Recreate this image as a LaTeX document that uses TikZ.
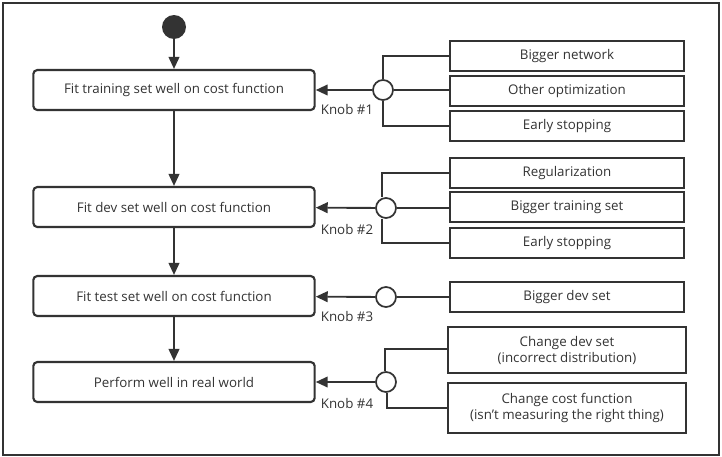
\documentclass[tikz,border=0pt]{standalone}
\usepackage{fontspec}
\setmainfont{Open Sans}
\usetikzlibrary{arrows.meta}
\definecolor{ink}{HTML}{333333}
\tikzset{
  stage/.style = {draw = ink, line width = 1.6pt, rounded corners = 3pt, minimum width = 211pt, minimum height = 30pt, inner sep = 0pt},
  fix/.style = {draw = ink, line width = 1.7pt, minimum width = 175pt, minimum height = 22.5pt, inner sep = 0pt, align = center},
  knob/.style = {draw = ink, line width = 1.3pt, fill = white, circle, minimum size = 15pt, inner sep = 0pt},
  wire/.style = {draw = ink, line width = 1.4pt},
  flow/.style = {draw = ink, line width = 1.4pt, -{Triangle[length = 9pt, width = 8pt]}}
}
\begin{document}
\begin{tikzpicture}[x = .75pt, y = -.75pt, font = \fontsize{10}{12}\selectfont, text = ink]
  \useasboundingbox (0,0) rectangle (722,457);
  \draw[ink, line width = 1.6pt] (3,3) rectangle (719,455);

  % stages on the left
  \node[circle, fill = ink, minimum size = 18pt, inner sep = 0pt] (start) at (174,27) {};
  \node[stage] (train) at (174,90) {Fit training set well on cost function};
  \node[stage] (dev) at (174,207) {Fit dev set well on cost function};
  \node[stage] (test) at (174,296) {Fit test set well on cost function};
  \node[stage] (real) at (174,382) {Perform well in real world};
  \draw[flow] (start) -- (train);
  \draw[flow] (train) -- (dev);
  \draw[flow] (dev) -- (test);
  \draw[flow] (test) -- (real);

  % knobs
  \node[knob] (k1) at (383,90) {};
  \node[knob] (k2) at (386,208) {};
  \node[knob] (k3) at (386,297) {};
  \node[knob] (k4) at (386,382) {};
  \node (l1) at (347,109) {Knob \#1};
  \node (l2) at (347,229) {Knob \#2};
  \node (l3) at (347,316) {Knob \#3};
  \node (l4) at (347,403) {Knob \#4};
  \draw[flow] (k1) -- (train);
  \draw[flow] (k2) -- (dev);
  \draw[flow] (k3) -- (test);
  \draw[flow] (k4) -- (real);

  % fixes on the right
  \node[fix] (net) at (567,56) {Bigger network};
  \node[fix] (opt) at (567,91) {Other optimization};
  \node[fix] (stop1) at (567,126) {Early stopping};
  \node[fix] (reg) at (567,173) {Regularization};
  \node[fix] (more) at (567,207) {Bigger training set};
  \node[fix] (stop2) at (567,243) {Early stopping};
  \node[fix] (bigdev) at (567,297) {Bigger dev set};
  \node[fix, minimum width = 179pt, minimum height = 34.5pt] (chdev) at (567,350) {Change dev set\\(incorrect distribution)};
  \node[fix, minimum width = 179pt, minimum height = 37.5pt] (chcost) at (567,408) {Change cost function\\(isn't measuring the right thing)};

  \draw[wire] (net.west) -| (k1.north);
  \draw[wire] (opt.west |- k1) -- (k1.east);
  \draw[wire] (stop1.west) -| (k1.south);
  \draw[wire] (reg.west) -| (k2.north -| 382,0);
  \draw[wire] (more.west |- k2) -- (k2.east);
  \draw[wire] (stop2.west) -| (k2.south -| 382,0);
  \draw[wire] (bigdev.west) -- (k3.east);
  \draw[wire] (chdev.west |- 0,349) -| (k4.north -| 385,0);
  \draw[wire] (chcost.west |- 0,408) -| (k4.south -| 387,0);
\end{tikzpicture}
\end{document}
